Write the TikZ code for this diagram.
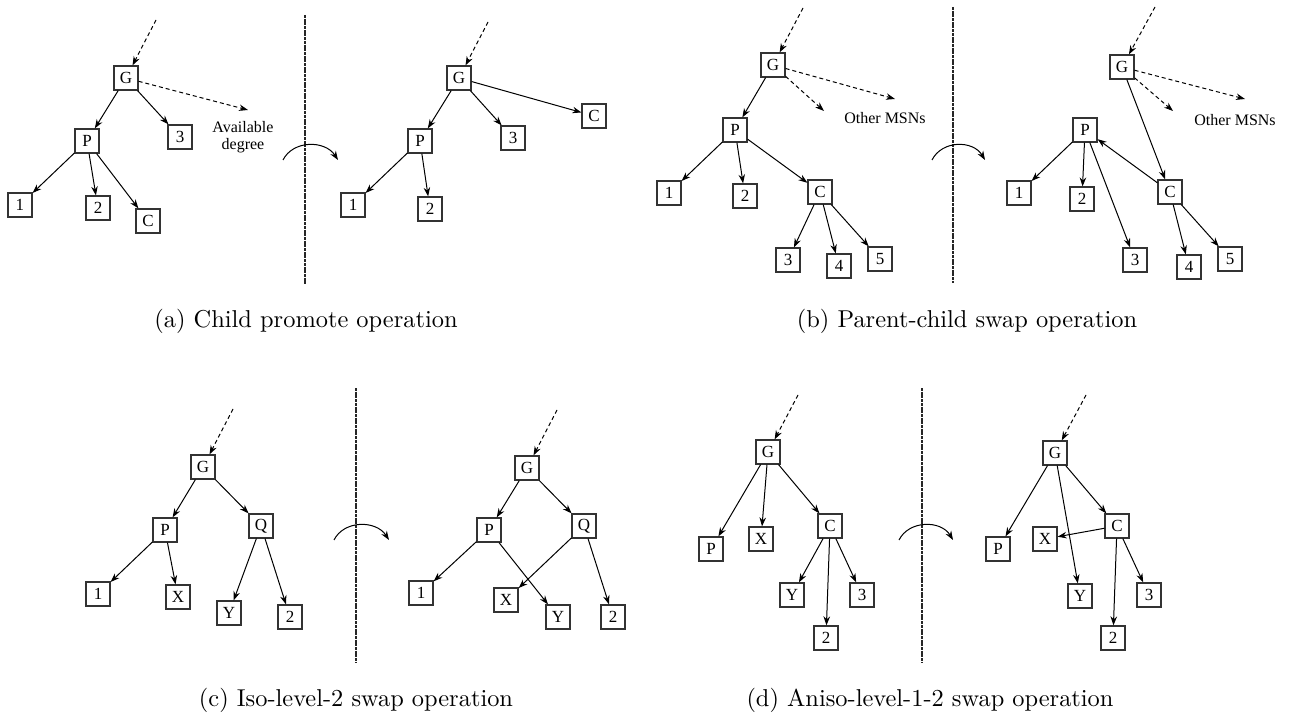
\documentclass[tikz,border=0pt]{standalone}
\usepackage{fontspec}
\newfontfamily\tms{Liberation Serif}
\usetikzlibrary{arrows.meta}
\tikzset{
  nd/.style={draw=black!80, line width=1.2pt, minimum size=24pt, inner sep=0pt,
             font=\tms\fontsize{17}{17}\selectfont},
  lbl/.style={font=\tms\fontsize{16}{19}\selectfont},
  ed/.style={-{Stealth[length=9pt,width=6.5pt]}, line width=1pt},
  dsh/.style={ed, dash pattern=on 4pt off 3pt},
  divider/.style={line width=1.2pt, draw=black!85, dash pattern=on 3pt off 0.7pt},
  flip/.style={-{Stealth[length=9pt,width=6.5pt]}, line width=1pt},
  captxt/.style={scale=2.44, font=\fontsize{10}{12}\selectfont}
}
\begin{document}
\begin{tikzpicture}[x=1pt, y=-1pt]
\useasboundingbox (0,0) rectangle (1296,719);

% ---------- (a) child promote: before ----------
\node[nd] (a1G) at (126,78) {G};
\node[nd] (a1P) at (87,141) {P};
\node[nd] (a13) at (180,137) {3};
\node[nd] (a11) at (20,205) {1};
\node[nd] (a12) at (98,208) {2};
\node[nd] (a1C) at (148,221) {C};
\coordinate (a1in) at (156,20);
\coordinate (a1av) at (248,110);
\node[lbl] (a1txt) at (243,137) {\begin{tabular}{@{}c@{}}\tms Available\\[-2pt]\tms degree\end{tabular}};
\draw[dsh] (a1in) -- (a1G);
\draw[dsh] (a1G) -- (a1av);
\draw[ed] (a1G) -- (a1P);
\draw[ed] (a1G) -- (a13);
\draw[ed] (a1P) -- (a11);
\draw[ed] (a1P) -- (a12);
\draw[ed] (a1P) -- (a1C);
% divider and turn arrow
\coordinate (aTop) at (305,15);
\coordinate (aBot) at (305,285);
\draw[divider] (aTop) -- (aBot);
\coordinate (aArcS) at (283,160);
\coordinate (aArcE) at (338,160);
\draw[flip] (aArcS) .. controls (293,140) and (325,140) .. (aArcE);

% ---------- (a) child promote: after ----------
\node[nd] (a2G) at (459,78) {G};
\node[nd] (a2C) at (594,116) {C};
\node[nd] (a2P) at (420,141) {P};
\node[nd] (a23) at (513,138) {3};
\node[nd] (a21) at (353,205) {1};
\node[nd] (a22) at (430,209) {2};
\coordinate (a2in) at (488,22);
\draw[dsh] (a2in) -- (a2G);
\draw[ed] (a2G) -- (a2P);
\draw[ed] (a2G) -- (a23);
\draw[ed] (a2G) -- (a2C);
\draw[ed] (a2P) -- (a21);
\draw[ed] (a2P) -- (a22);

\node[captxt] (capA) at (306,321) {(a) Child promote operation};

% ---------- (b) parent-child swap: before ----------
\node[nd] (b1G) at (773,65) {G};
\node[nd] (b1P) at (735,130) {P};
\node[nd] (b11) at (669,193) {1};
\node[nd] (b12) at (745,196) {2};
\node[nd] (b1C) at (820,192) {C};
\node[nd] (b13) at (788,260) {3};
\node[nd] (b14) at (839,266) {4};
\node[nd] (b15) at (880,259) {5};
\coordinate (b1in) at (803,8);
\coordinate (b1o1) at (895,99);
\coordinate (b1o2) at (824,111);
\node[lbl] (b1txt) at (885,118) {Other MSNs};
\draw[dsh] (b1in) -- (b1G);
\draw[dsh] (b1G) -- (b1o1);
\draw[dsh] (b1G) -- (b1o2);
\draw[ed] (b1G) -- (b1P);
\draw[ed] (b1P) -- (b11);
\draw[ed] (b1P) -- (b12);
\draw[ed] (b1P) -- (b1C);
\draw[ed] (b1C) -- (b13);
\draw[ed] (b1C) -- (b14);
\draw[ed] (b1C) -- (b15);
\coordinate (bTop) at (953,7);
\coordinate (bBot) at (953,283);
\draw[divider] (bTop) -- (bBot);
\coordinate (bArcS) at (932,160);
\coordinate (bArcE) at (985,160);
\draw[flip] (bArcS) .. controls (942,140) and (973,140) .. (bArcE);

% ---------- (b) parent-child swap: after ----------
\node[nd] (b2G) at (1122,67) {G};
\node[nd] (b2P) at (1085,130) {P};
\node[nd] (b21) at (1019,193) {1};
\node[nd] (b22) at (1082,199) {2};
\node[nd] (b23) at (1135,260) {3};
\node[nd] (b2C) at (1170,192) {C};
\node[nd] (b24) at (1189,267) {4};
\node[nd] (b25) at (1230,259) {5};
\coordinate (b2in) at (1155,7);
\coordinate (b2o1) at (1245,99);
\coordinate (b2o2) at (1173,111);
\node[lbl] (b2txt) at (1235,120) {Other MSNs};
\draw[dsh] (b2in) -- (b2G);
\draw[dsh] (b2G) -- (b2o1);
\draw[dsh] (b2G) -- (b2o2);
\draw[ed] (b2G) -- (b2C);
\draw[ed] (b2C) -- (b2P);
\draw[ed] (b2P) -- (b21);
\draw[ed] (b2P) -- (b22);
\draw[ed] (b2P) -- (b23);
\draw[ed] (b2C) -- (b24);
\draw[ed] (b2C) -- (b25);

\node[captxt] (capB) at (967,321) {(b) Parent-child swap operation};

% ---------- (c) iso-level-2 swap: before ----------
\node[nd] (c1G) at (203,467) {G};
\node[nd] (c1P) at (165,530) {P};
\node[nd] (c1Q) at (261,526) {Q};
\node[nd] (c11) at (98,594) {1};
\node[nd] (c1X) at (178,597) {X};
\node[nd] (c1Y) at (229,613) {Y};
\node[nd] (c12) at (290,617) {2};
\coordinate (c1in) at (233,409);
\draw[dsh] (c1in) -- (c1G);
\draw[ed] (c1G) -- (c1P);
\draw[ed] (c1G) -- (c1Q);
\draw[ed] (c1P) -- (c11);
\draw[ed] (c1P) -- (c1X);
\draw[ed] (c1Q) -- (c1Y);
\draw[ed] (c1Q) -- (c12);
\coordinate (cTop) at (356,388);
\coordinate (cBot) at (356,663);
\draw[divider] (cTop) -- (cBot);
\coordinate (cArcS) at (334,540);
\coordinate (cArcE) at (389,540);
\draw[flip] (cArcS) .. controls (344,520) and (376,520) .. (cArcE);

% ---------- (c) iso-level-2 swap: after ----------
\node[nd] (c2G) at (527,468) {G};
\node[nd] (c2P) at (489,530) {P};
\node[nd] (c2Q) at (584,526) {Q};
\node[nd] (c21) at (421,593) {1};
\node[nd] (c2X) at (506,600) {X};
\node[nd] (c2Y) at (558,617) {Y};
\node[nd] (c22) at (613,617) {2};
\coordinate (c2in) at (557,410);
\draw[dsh] (c2in) -- (c2G);
\draw[ed] (c2G) -- (c2P);
\draw[ed] (c2G) -- (c2Q);
\draw[ed] (c2P) -- (c21);
\draw[ed] (c2P) -- (c2Y);
\draw[ed] (c2Q) -- (c2X);
\draw[ed] (c2Q) -- (c22);

\node[captxt] (capC) at (356,700) {(c) Iso-level-2 swap operation};

% ---------- (d) aniso-level-1-2 swap: before ----------
\node[nd] (d1G) at (768,452) {G};
\node[nd] (d1P) at (711,549) {P};
\node[nd] (d1X) at (761,539) {X};
\node[nd] (d1C) at (830,526) {C};
\node[nd] (d1Y) at (792,595) {Y};
\node[nd] (d13) at (862,595) {3};
\node[nd] (d12) at (826,638) {2};
\coordinate (d1in) at (798,395);
\draw[dsh] (d1in) -- (d1G);
\draw[ed] (d1G) -- (d1P);
\draw[ed] (d1G) -- (d1X);
\draw[ed] (d1G) -- (d1C);
\draw[ed] (d1C) -- (d1Y);
\draw[ed] (d1C) -- (d12);
\draw[ed] (d1C) -- (d13);
\coordinate (dTop) at (922,388);
\coordinate (dBot) at (922,663);
\draw[divider] (dTop) -- (dBot);
\coordinate (dArcS) at (899,540);
\coordinate (dArcE) at (953,540);
\draw[flip] (dArcS) .. controls (909,520) and (941,520) .. (dArcE);

% ---------- (d) aniso-level-1-2 swap: after ----------
\node[nd] (d2G) at (1055,453) {G};
\node[nd] (d2P) at (998,549) {P};
\node[nd] (d2X) at (1045,539) {X};
\node[nd] (d2C) at (1117,526) {C};
\node[nd] (d2Y) at (1080,596) {Y};
\node[nd] (d23) at (1149,595) {3};
\node[nd] (d22) at (1113,638) {2};
\coordinate (d2in) at (1086,395);
\draw[dsh] (d2in) -- (d2G);
\draw[ed] (d2G) -- (d2P);
\draw[ed] (d2G) -- (d2Y);
\draw[ed] (d2G) -- (d2C);
\draw[ed] (d2C) -- (d2X);
\draw[ed] (d2C) -- (d22);
\draw[ed] (d2C) -- (d23);

\node[captxt] (capD) at (930,700) {(d) Aniso-level-1-2 swap operation};
\end{tikzpicture}
\end{document}
